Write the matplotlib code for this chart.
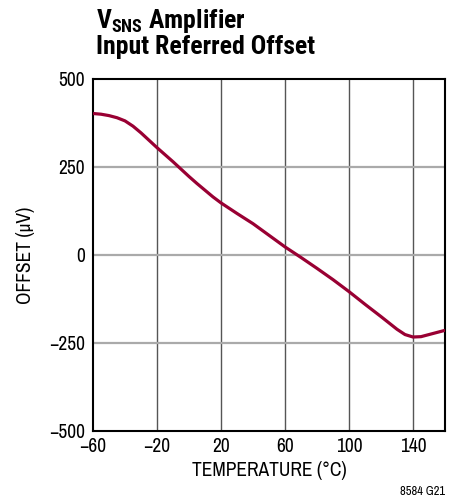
import matplotlib
matplotlib.use("Agg")
import matplotlib.pyplot as plt
from matplotlib import font_manager

fonts = font_manager.fontManager.ttflist
names = {f.name for f in fonts}


def _w(v):
    if isinstance(v, int):
        return v
    return {"bold": 700, "semibold": 600, "demibold": 600, "heavy": 800, "black": 900}.get(str(v), 400)


def has_bold(name):
    return any(f.name == name and _w(f.weight) >= 600 for f in fonts)


FAM = [f for f in ["Archivo Narrow", "Liberation Sans Narrow"] if f in names] + ["DejaVu Sans"]
TFAM = [f for f in ["Roboto Condensed", "Archivo Narrow", "Liberation Sans Narrow",
                    "Asap Condensed", "Barlow Semi Condensed"] if has_bold(f)] + ["DejaVu Sans"]
plt.rcParams['font.family'] = FAM
plt.rcParams['font.stretch'] = "condensed"
plt.rcParams['mathtext.fontset'] = "custom"
plt.rcParams['mathtext.bf'] = f"{TFAM[0]}:bold"
plt.rcParams['mathtext.rm'] = f"{TFAM[0]}"

# data
temperature = [-60, -55, -50, -45, -40, -35, -30, -25, -20, -15, -10, -5, 0, 5, 10, 15, 20,
               30, 40, 50, 60, 70, 80, 90, 100, 110, 120, 130, 135, 140, 145, 150, 155, 160]
offset_uV = [402, 400, 396, 390, 381, 366, 347, 326, 305, 285, 265, 244, 223, 203, 184, 165, 148,
             118, 89, 56, 23, -7, -38, -70, -104, -140, -175, -211, -226, -233, -232, -226, -220, -214]

x_ticks = [-60, -20, 20, 60, 100, 140]
x_tick_labels = ["\u221260", "\u221220", "20", "60", "100", "140"]
y_ticks = [-500, -250, 0, 250, 500]
y_tick_labels = ["\u2212500", "\u2212250", "0", "250", "500"]

fig = plt.figure(figsize=(4.59, 5.01), dpi=100)
ax = fig.add_axes([93/459, 1-431/501, (445-93)/459, (431-79)/501])

for xv in x_ticks[1:]:
    ax.axvline(xv, color="#555555", lw=1.0, zorder=1)
for yv in y_ticks[1:-1]:
    ax.axhline(yv, color="#aaaaaa", lw=1.6, zorder=1)

ax.plot(temperature, offset_uV, color="#990033", lw=2.3, zorder=3,
        solid_joinstyle="round", solid_capstyle="butt")

ax.set_xlim(-60, 160)
ax.set_ylim(-500, 500)
ax.set_xticks(x_ticks)
ax.set_xticklabels(x_tick_labels)
ax.set_yticks(y_ticks)
ax.set_yticklabels(y_tick_labels)
ax.tick_params(length=0, labelsize=14, pad=6)
ax.tick_params(axis="x", pad=4)
for s in ax.spines.values():
    s.set_linewidth(1.5)
    s.set_color("black")

ax.set_xlabel("TEMPERATURE (\u00b0C)", fontsize=14, labelpad=4)
ax.set_ylabel("OFFSET (\u03bcV)", fontsize=14, labelpad=10)

fig.text(96/459, 1-7/501, r"V$_{\mathbf{SNS}}$ Amplifier", fontsize=18.5, fontweight="bold",
         family=TFAM, stretch="condensed", ha="left", va="top")
fig.text(96/459, 1-35/501, "Input Referred Offset", fontsize=18.5, fontweight="bold",
         family=TFAM, stretch="condensed", ha="left", va="top")
fig.text(445/459, 1-497/501, "8584 G21", fontsize=9, ha="right", va="bottom")

fig.savefig("out.png", dpi=100)
